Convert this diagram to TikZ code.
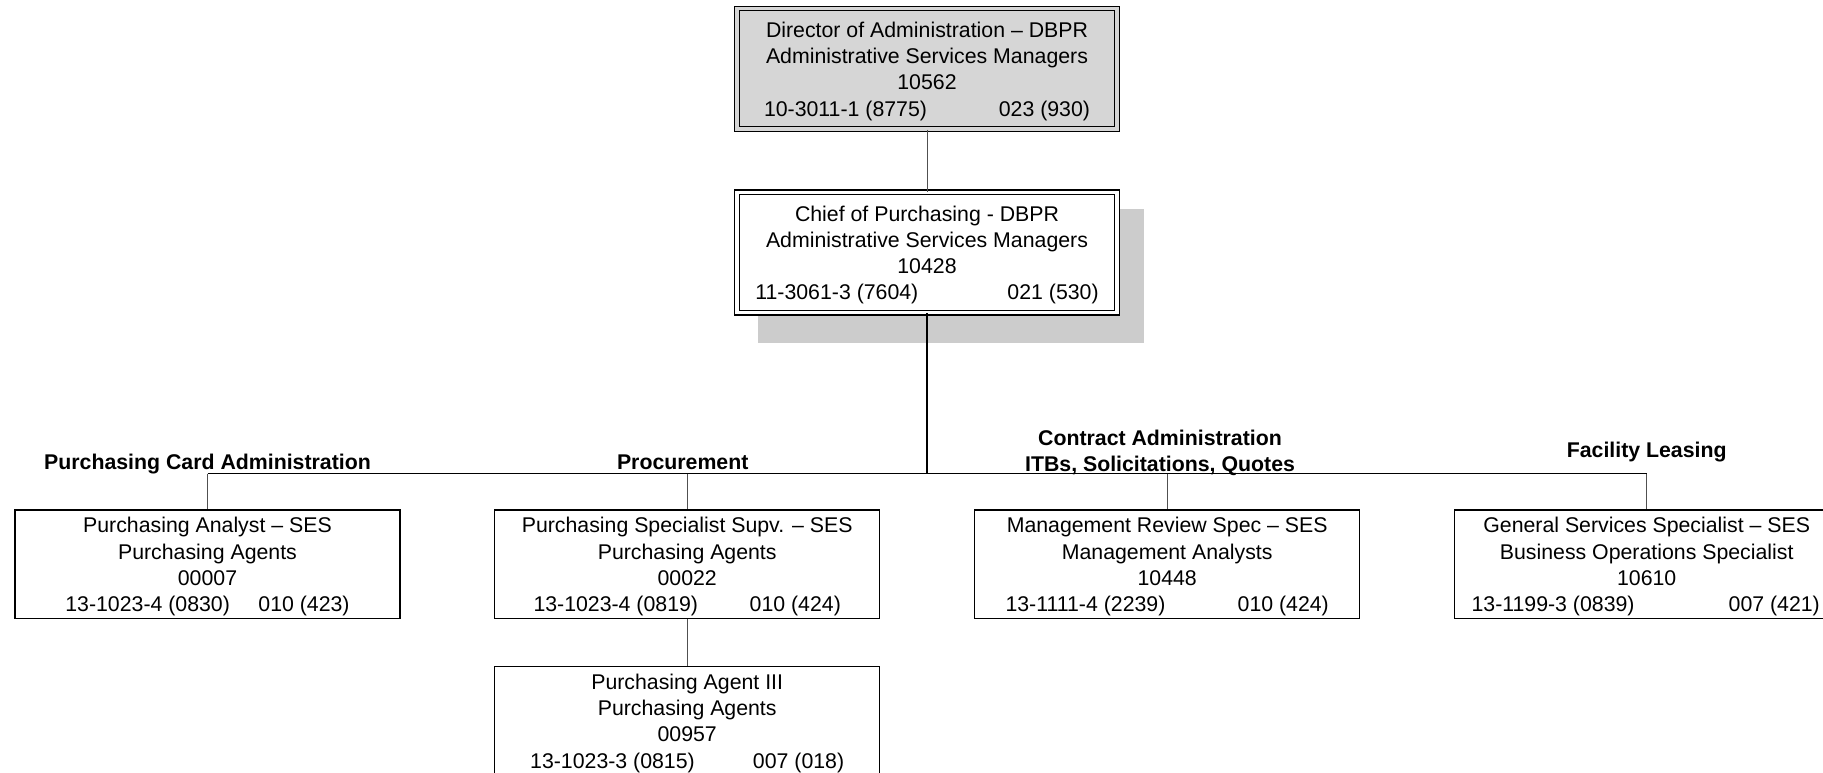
\documentclass[tikz,border=0pt]{standalone}
\usepackage{fontspec}
\setmainfont{Liberation Sans}
\definecolor{headfill}{HTML}{D6D6D6}
\definecolor{shadowgray}{HTML}{CCCCCC}
\definecolor{linkgray}{HTML}{505050}
% strut that lowers the first line of a box slightly
\newcommand{\topstrut}{\rule{0pt}{20.5pt}}
\begin{document}
\begin{tikzpicture}[x=1pt,y=-1pt,
  txt/.style={font=\fontsize{21.3}{26.2}\selectfont},
  unit/.style={draw=black, line width=1.3pt, fill=white, minimum width=385pt,
    minimum height=108.3pt, inner sep=0pt, align=center, txt},
  head/.style={unit, minimum width=380.2pt, minimum height=120.6pt,
    double distance=3.3pt, line width=1.2pt},
  label/.style={inner sep=0pt, align=center, anchor=base,
    font=\fontsize{21.3}{25.3}\selectfont\bfseries},
  link/.style={draw=linkgray, line width=1pt},
  trunk/.style={draw=black, line width=1.6pt},
  busline/.style={draw=black, line width=1.1pt}
]
\useasboundingbox (0,0) rectangle (1823,772);
\fill[white] (0,0) rectangle (1823,772);
\clip (0,0) rectangle (1823,772);

% shadow behind the chief's box
\fill[shadowgray] (758.3,209.3) rectangle (1144,343.3);

% top of the chart
\node[head, fill=headfill, double=headfill] (dir) at (927,68.8)
  {\topstrut Director of Administration -- DBPR\\Administrative Services Managers\\10562\\
   \makebox[326pt]{10-3011-1 (8775)\hfill 023 (930)}};
\node[head, double=white] (chief) at (927,252.5)
  {\topstrut Chief of Purchasing - DBPR\\Administrative Services Managers\\10428\\
   \makebox[343.3pt]{11-3061-3 (7604)\hfill 021 (530)}};

% section units
\node[unit] (pca) at (207.5,564.2)
  {\topstrut Purchasing Analyst -- SES\\Purchasing Agents\\00007\\
   \makebox[284.3pt]{13-1023-4 (0830)\hfill 010 (423)}};
\node[unit] (pss) at (687.2,564.2)
  {\topstrut Purchasing Specialist Supv. -- SES\\Purchasing Agents\\00022\\
   \makebox[307.4pt]{13-1023-4 (0819)\hfill 010 (424)}};
\node[unit] (pa3) at (687.2,720.8)
  {\topstrut Purchasing Agent III\\Purchasing Agents\\00957\\
   \makebox[314pt]{13-1023-3 (0815)\hfill 007 (018)}};
\node[unit] (mrs) at (1167.2,564.2)
  {\topstrut Management Review Spec -- SES\\Management Analysts\\10448\\
   \makebox[323.3pt]{13-1111-4 (2239)\hfill 010 (424)}};
\node[unit] (gss) at (1646.7,564.2)
  {\topstrut General Services Specialist -- SES\\Business Operations Specialist\\10610\\
   \makebox[348.3pt]{13-1199-3 (0839)\hfill 007 (421)}\hspace*{2pt}};

% section headings
\node[label] (lpca) at (207.5,469.8) {Purchasing Card Administration};
\node[label] (lpro) at (682.7,469.8) {Procurement};
\node[label, anchor=south] (lcon) at (1160,475.5) {Contract Administration\\ITBs, Solicitations, Quotes};
\node[label] (lfac) at (1646.7,457) {Facility Leasing};

% connectors
\coordinate (bus) at (927,473.5);
\draw[link] (dir.south) -- (chief.north);
\draw[trunk] (chief.south) -- (bus);
\draw[busline] (pca.north |- bus) -- (gss.north |- bus);
\draw[link] (pca.north |- bus) -- (pca.north);
\draw[link] (pss.north |- bus) -- (pss.north);
\draw[link] (mrs.north |- bus) -- (mrs.north);
\draw[link] (gss.north |- bus) -- (gss.north);
\draw[link] (pss.south) -- (pa3.north);
\end{tikzpicture}
\end{document}
